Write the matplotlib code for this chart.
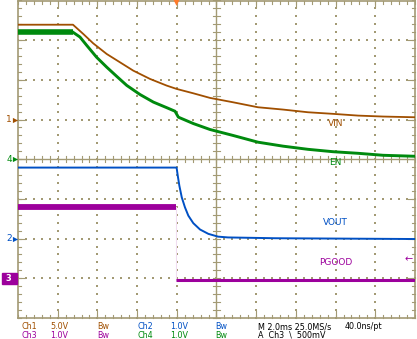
import numpy as np
import matplotlib
matplotlib.use("Agg")
import matplotlib.pyplot as plt

# scope colours
GRID = '#A39A74'
C_VIN = '#A04F00'
C_EN = '#008A0E'
C_VOUT = '#0050C4'
C_PG = '#9C009C'
C_TRIG = '#FF7A2A'

# horizontal: 2 ms/div, 10 div -> 0..20 ms
time_per_div = 2.0

# Ch1 VIN (5 V/div, ground at +1 div)
vin_t = [0.0, 2.77, 3.29, 3.79, 4.47, 5.14, 5.81, 6.65, 7.49, 7.99, 8.83, 9.67,
         10.83, 12.09, 13.35, 14.61, 15.87, 17.13, 18.39, 20.0]
vin_v = [11.95, 11.95, 10.78, 9.60, 8.26, 7.21, 6.16, 5.12, 4.28, 3.86, 3.31, 2.73,
         2.18, 1.55, 1.26, 0.92, 0.72, 0.50, 0.38, 0.29]

# Ch4 EN (1 V/div, ground at 0 div)
en_t = [0.0, 2.77, 3.12, 3.46, 3.96, 4.47, 4.97, 5.48, 6.15, 6.82, 7.49, 7.91,
        8.08, 8.83, 9.67, 10.83, 12.09, 13.35, 14.61, 15.87, 17.13, 18.39, 20.0]
en_v = [3.20, 3.20, 3.08, 2.87, 2.57, 2.32, 2.09, 1.86, 1.63, 1.44, 1.30, 1.21,
        1.06, 0.90, 0.75, 0.60, 0.43, 0.33, 0.25, 0.19, 0.15, 0.10, 0.075]

# Ch2 VOUT (1 V/div, ground at -2 div)
vout_t = [0.0, 7.99, 8.05, 8.13, 8.25, 8.41, 8.58, 8.83, 9.17, 9.59, 10.08,
          10.58, 12.95, 20.0]
vout_v = [1.79, 1.79, 1.58, 1.33, 1.04, 0.79, 0.58, 0.39, 0.23, 0.12, 0.05,
          0.03, 0.01, -0.01]

# Ch3 PGOOD (1 V/div, ground at -3 div)
pg_t = [0.0, 7.98, 7.98, 20.0]
pg_v = [1.79, 1.79, -0.03, -0.03]

fig = plt.figure(figsize=(4.17, 3.39), dpi=100)
fig.patch.set_facecolor('white')
ax = fig.add_axes([18 / 417, 21 / 339, 397 / 417, 317.5 / 339])
ax.set_xlim(0, 20)
ax.set_ylim(-4, 4)
ax.axis('off')

# graticule: dotted grid
dx = 0.2 * time_per_div
for k in range(1, 10):
    if k == 5:
        continue
    ys = np.arange(-4, 4.01, 0.2)
    ax.scatter(np.full_like(ys, k * time_per_div), ys, s=0.6, marker='s',
               color=GRID, linewidths=0, zorder=1)
for k in [-3, -2, -1, 1, 2, 3]:
    xs = np.arange(0, 20.01, dx)
    ax.scatter(xs, np.full_like(xs, k), s=0.6, marker='s',
               color=GRID, linewidths=0, zorder=1)

# frame and crosshair
for spine_x in [0, 20]:
    ax.plot([spine_x, spine_x], [-4, 4], color=GRID, lw=1.2, clip_on=False, zorder=2)
for spine_y in [-4, 4]:
    ax.plot([0, 20], [spine_y, spine_y], color=GRID, lw=1.2, clip_on=False, zorder=2)
ax.plot([10, 10], [-4, 4], color=GRID, lw=1.0, zorder=2)
ax.plot([0, 20], [0, 0], color=GRID, lw=1.0, zorder=2)

# minor ticks on center lines and borders
tx = np.arange(0, 20.01, dx)
ty = np.arange(-4, 4.01, 0.2)
hy = 0.08
hx = 0.16
segs = []
for x in tx:
    segs.append(([x, x], [-hy, hy]))
    segs.append(([x, x], [-4, -4 + hy]))
    segs.append(([x, x], [4 - hy, 4]))
for y in ty:
    segs.append(([10 - hx, 10 + hx], [y, y]))
    segs.append(([0, hx], [y, y]))
    segs.append(([20 - hx, 20], [y, y]))
for xs_, ys_ in segs:
    ax.plot(xs_, ys_, color=GRID, lw=0.8, zorder=2, clip_on=False)
for k in range(-3, 4):
    ax.plot([0, 2.2 * hx], [k, k], color=GRID, lw=0.8, zorder=2)
    ax.plot([20 - 2.2 * hx, 20], [k, k], color=GRID, lw=0.8, zorder=2)
for k in range(1, 10):
    ax.plot([k * 2, k * 2], [-4, -4 + 2.2 * hy], color=GRID, lw=0.8, zorder=2)
    ax.plot([k * 2, k * 2], [4 - 2.2 * hy, 4], color=GRID, lw=0.8, zorder=2)

# traces (volts -> divisions)
vin_y = np.array(vin_v) / 5.0 + 1.0
en_y = np.array(en_v) / 1.0
vout_y = np.array(vout_v) / 1.0 - 2.0
pg_y = np.array(pg_v) / 1.0 - 3.0

ax.plot(vin_t, vin_y, color=C_VIN, lw=1.3, zorder=4, solid_joinstyle='round')
ax.plot(en_t[:2], en_y[:2], color=C_EN, lw=4.0, zorder=4, solid_capstyle='butt')
ax.plot(en_t[1:], en_y[1:], color=C_EN, lw=2.1, zorder=4, solid_joinstyle='round')
ax.plot(vout_t, vout_y, color=C_VOUT, lw=1.4, zorder=4, solid_joinstyle='round')
ax.plot(pg_t[:2], pg_y[:2], color=C_PG, lw=4.2, zorder=4, solid_capstyle='butt')
ax.plot(pg_t[1:3], pg_y[1:3], color='#F0DDF0', lw=0.8, zorder=3)
ax.plot(pg_t[2:], pg_y[2:], color=C_PG, lw=2.2, zorder=4, solid_capstyle='butt')

# trigger position marker
ax.scatter([7.96], [4.0], marker='v', s=40, color=C_TRIG, zorder=6, clip_on=False,
           linewidths=0)

# channel ground markers
markers = [(1.0, '1', C_VIN), (0.0, '4', C_EN), (-2.0, '2', C_VOUT)]
for y, lab, c in markers:
    ax.scatter([-0.15], [y], marker='>', s=14, color=c, clip_on=False, zorder=6,
               linewidths=0)
    ax.text(-0.45, y, lab, color=c, fontsize=6.5, ha='center', va='center',
            clip_on=False)
ax.add_patch(plt.Rectangle((-0.8, -3.14), 0.75, 0.28, color=C_PG,
                           clip_on=False, zorder=6))
ax.text(-0.5, -3.0, '3', color='white', fontsize=6, ha='center', va='center',
        zorder=7, clip_on=False, fontweight='bold')

# trace labels
ax.text(16.0, 0.89, 'VIN', color=C_VIN, fontsize=6.5, ha='center', va='center')
ax.text(16.0, -0.09, 'EN', color=C_EN, fontsize=6.5, ha='center', va='center')
ax.text(16.0, -1.59, 'VOUT', color=C_VOUT, fontsize=6.5, ha='center', va='center')
ax.text(16.0, -2.6, 'PGOOD', color=C_PG, fontsize=6.5, ha='center', va='center')
ax.text(19.7, -2.52, '\u2190', color=C_PG, fontsize=7, ha='center', va='center')

# status bar
row1 = [(21, 'Ch1', C_VIN), (50, '5.0V', C_VIN), (97, 'Bw', C_VIN),
        (138, 'Ch2', C_VOUT), (170, '1.0V', C_VOUT), (215, 'Bw', C_VOUT),
        (258, 'M 2.0ms 25.0MS/s', 'black'), (345, '40.0ns/pt', 'black')]
row2 = [(21, 'Ch3', C_PG), (50, '1.0V', C_PG), (97, 'Bw', C_PG),
        (138, 'Ch4', C_EN), (170, '1.0V', C_EN), (215, 'Bw', C_EN),
        (258, 'A  Ch3  \\  500mV', 'black')]
for yy, row in [(326.5, row1), (335.5, row2)]:
    for x, s, c in row:
        fig.text(x / 417, 1 - yy / 339, s, color=c, fontsize=5.8,
                 ha='left', va='center')

fig.savefig('out.png', dpi=100, facecolor='white')
